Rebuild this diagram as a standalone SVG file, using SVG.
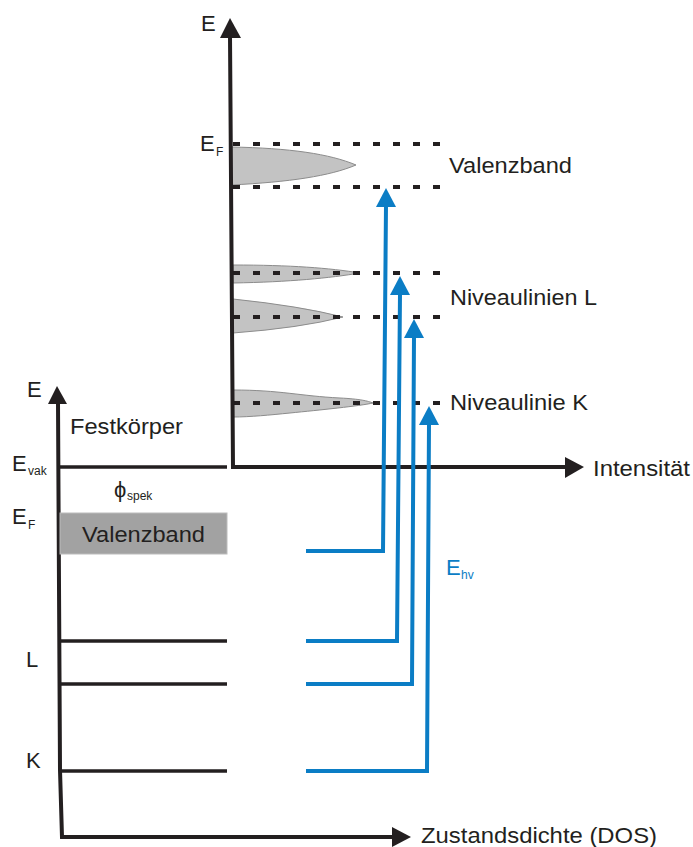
<svg xmlns="http://www.w3.org/2000/svg" width="693" height="847" viewBox="0 0 693 847">
  <style>
    .ax { fill: none; stroke: #231f20; stroke-width: 4; stroke-linejoin: miter; }
    .lvl { fill: none; stroke: #231f20; stroke-width: 3.5; }
    .dash { fill: none; stroke: #231f20; stroke-width: 4; stroke-dasharray: 7 13; }
    .head { fill: #231f20; }
    .peak { fill: #c3c3c3; stroke: #8c8c8c; stroke-width: 1; }
    .ph { fill: none; stroke: #0b7dc5; stroke-width: 4; stroke-linejoin: miter; }
    .phh { fill: #0b7dc5; }
    text { font-family: "Liberation Sans", Arial, sans-serif; fill: #231f20; }
    .lbl { font-size: 22px; }
    .sub { font-size: 12px; }
    .blue { fill: #0b7dc5; }
  </style>

  <!-- spectrum: gray emission peaks -->
  <g id="peaks">
    <path class="peak" d="M231,147 C290,148 330,154 356,165 C330,176 290,182 231,185 Z"/>
    <path class="peak" d="M233,265 C290,265 330,268 360,273 C330,278 290,282 233,283 Z"/>
    <path class="peak" d="M233,299 Q300,306 343,317 Q300,328 233,333 Z"/>
    <path class="peak" d="M233,390 C280,390 300,396 340,398 C360,399 368,401 373,403 C360,406 320,410 290,413 C270,415 250,417 233,417 Z"/>
  </g>

  <!-- dashed energy markers of the spectrum -->
  <g id="markers">
    <line class="dash" x1="233" y1="144" x2="442" y2="144"/>
    <line class="dash" x1="233" y1="187" x2="442" y2="187"/>
    <line class="dash" x1="233" y1="273" x2="442" y2="273"/>
    <line class="dash" x1="233" y1="317" x2="442" y2="317"/>
    <line class="dash" x1="233" y1="403" x2="442" y2="403"/>
  </g>

  <!-- spectrum axes -->
  <g id="spectrum-axes">
    <path class="ax" d="M230,36 L233,467 L566,467"/>
    <polygon class="head" points="230,18 220,38 241,38"/>
    <polygon class="head" points="584,467 565,457 565,478"/>
    <text class="lbl" x="201" y="31" font-size="25">E</text>
    <text class="lbl" x="200" y="151" font-size="21">E</text>
    <text class="sub" x="216" y="156" font-size="11">F</text>
    <text class="lbl" x="593" y="476" textLength="97" lengthAdjust="spacingAndGlyphs">Intensität</text>
  </g>

  <!-- solid-state axes -->
  <g id="solid-axes">
    <path class="ax" d="M58,402 L60,770 L62,837 L393,837"/>
    <polygon class="head" points="57,386 48,404 67,404"/>
    <polygon class="head" points="411,837 392,827 392,847"/>
    <text class="lbl" x="27" y="397" font-size="21">E</text>
    <text class="lbl" x="70" y="434" textLength="113" lengthAdjust="spacingAndGlyphs">Festkörper</text>
    <text class="lbl" x="421" y="843" textLength="236" lengthAdjust="spacingAndGlyphs">Zustandsdichte (DOS)</text>
  </g>

  <!-- vacuum level -->
  <g id="vacuum">
    <line class="lvl" x1="60" y1="467" x2="227" y2="467"/>
    <text class="lbl" x="12" y="471">E</text>
    <text class="sub" x="28" y="475">vak</text>
    <text class="lbl" x="114" y="497">ϕ</text>
    <text class="sub" x="127" y="500">spek</text>
  </g>

  <!-- valence band -->
  <g id="valence-band">
    <rect x="60" y="513" width="167" height="41" fill="#a2a2a2" stroke="#bcbcbc" stroke-width="1"/>
    <text class="lbl" x="82" y="542" textLength="123" lengthAdjust="spacingAndGlyphs">Valenzband</text>
    <text class="lbl" x="12" y="524">E</text>
    <text class="sub" x="28" y="529" font-size="11">F</text>
  </g>

  <!-- core levels -->
  <g id="level-L">
    <line class="lvl" x1="60" y1="641" x2="227" y2="641"/>
    <line class="lvl" x1="60" y1="684" x2="227" y2="684"/>
    <text class="lbl" x="26" y="667">L</text>
  </g>
  <g id="level-K">
    <line class="lvl" x1="61" y1="771" x2="227" y2="771"/>
    <text class="lbl" x="26" y="768">K</text>
  </g>

  <!-- spectrum labels -->
  <g id="label-valence">
    <text class="lbl" x="449" y="173" textLength="123" lengthAdjust="spacingAndGlyphs">Valenzband</text>
  </g>
  <g id="label-L">
    <text class="lbl" x="450" y="305" textLength="147" lengthAdjust="spacingAndGlyphs">Niveaulinien L</text>
  </g>
  <g id="label-K">
    <text class="lbl" x="450" y="410" textLength="138" lengthAdjust="spacingAndGlyphs">Niveaulinie K</text>
  </g>

  <!-- photon energy transitions -->
  <g id="connectors">
    <path class="ph" d="M306,551 H383 L386,205"/>
    <polygon class="phh" points="386,188 376,207 396,207"/>
    <path class="ph" d="M306,641 H397 L400,293"/>
    <polygon class="phh" points="400,276 390,295 410,295"/>
    <path class="ph" d="M306,684 H412 L414,336"/>
    <polygon class="phh" points="414,319 404,338 424,338"/>
    <path class="ph" d="M306,771 H427 L429,423"/>
    <polygon class="phh" points="429,406 419,425 439,425"/>
    <text class="lbl blue" x="446" y="575">E</text>
    <text class="sub blue" x="461" y="579" font-size="13">hv</text>
  </g>
</svg>
